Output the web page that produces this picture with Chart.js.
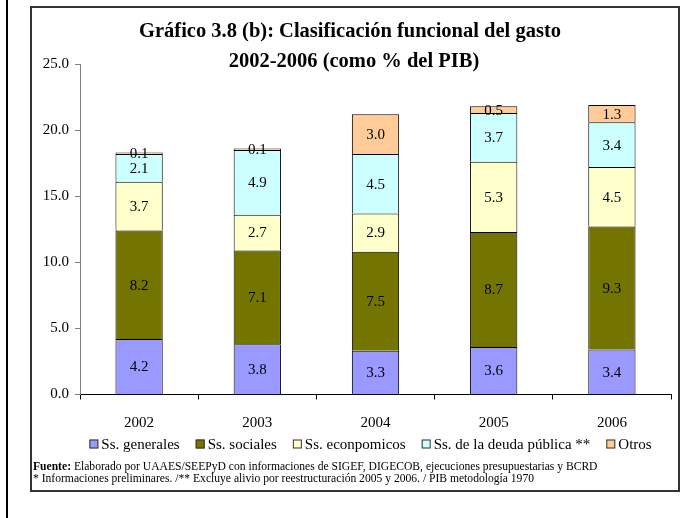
<!DOCTYPE html>
<html>
<head>
<meta charset="utf-8">
<script src="https://cdn.jsdelivr.net/npm/chart.js@4"></script>
<style>
html,body{margin:0;padding:0;background:#fff;}
#c{display:block;}
</style>
</head>
<body>
<canvas id="c" width="694" height="518"></canvas>
<script>
const categories = ['2002', '2003', '2004', '2005', '2006'];
const seriesNames = ['Ss. generales', 'Ss. sociales', 'Ss. econpomicos', 'Ss. de la deuda pública **', 'Otros'];
const generales = [4.2, 3.8, 3.3, 3.6, 3.4];
const sociales = [8.2, 7.1, 7.5, 8.7, 9.3];
const economicos = [3.7, 2.7, 2.9, 5.3, 4.5];
const deuda = [2.1, 4.9, 4.5, 3.7, 3.4];
const otros = [0.1, 0.1, 3.0, 0.5, 1.3];
const seriesColors = ['#9999FF', '#747400', '#FFFFCC', '#CCFFFF', '#FFCC99'];
const titleLines = ['Gráfico 3.8 (b): Clasificación funcional del gasto', '2002-2006 (como % del PIB)'];
const footerBold = 'Fuente:';
const footerLine1 = ' Elaborado por UAAES/SEEPyD con informaciones de SIGEF, DIGECOB, ejecuciones presupuestarias y BCRD';
const footerLine2 = '* Informaciones preliminares. /** Excluye alivio por reestructuración 2005 y 2006. / PIB metodología 1970';

const SERIF = "'Liberation Serif', 'Times New Roman', serif";
const allSeries = [generales, sociales, economicos, deuda, otros];

const datasets = allSeries.map((vals, i) => ({
  label: seriesNames[i],
  data: vals,
  backgroundColor: seriesColors[i],
  borderColor: '#000000',
  borderWidth: { top: 1, left: 1, right: 1, bottom: 0 },
  borderSkipped: false,
  barPercentage: 0.4,
  categoryPercentage: 1.0
}));

const decorPlugin = {
  id: 'decor',
  beforeDraw(chart) {
    const ctx = chart.ctx;
    ctx.save();
    ctx.fillStyle = '#ffffff';
    ctx.fillRect(0, 0, chart.width, chart.height);
    ctx.restore();
  },
  afterDatasetsDraw(chart) {
    const ctx = chart.ctx;
    ctx.save();
    ctx.font = '15px ' + SERIF;
    ctx.fillStyle = '#000';
    ctx.textAlign = 'center';
    ctx.textBaseline = 'middle';
    chart.data.datasets.forEach((ds, di) => {
      const meta = chart.getDatasetMeta(di);
      meta.data.forEach((el, i) => {
        const p = el.getProps(['x', 'y', 'base'], true);
        ctx.fillText(Number(ds.data[i]).toFixed(1), p.x, (p.y + p.base) / 2 + 1);
      });
    });
    ctx.restore();
  },
  afterDraw(chart) {
    const ctx = chart.ctx;
    ctx.save();
    // outer left line
    ctx.strokeStyle = '#000';
    ctx.lineWidth = 2;
    ctx.beginPath();
    ctx.moveTo(7, 0);
    ctx.lineTo(7, 518);
    ctx.stroke();
    // chart box
    ctx.strokeStyle = '#333';
    ctx.lineWidth = 2;
    ctx.strokeRect(31, 7, 648, 484);

    // title
    ctx.fillStyle = '#000';
    ctx.font = 'bold 20.5px ' + SERIF;
    ctx.textAlign = 'center';
    ctx.textBaseline = 'middle';
    ctx.fillText(titleLines[0], 350, 32);
    ctx.fillText(titleLines[1], 354, 62);

    // legend
    ctx.font = '15px ' + SERIF;
    ctx.textAlign = 'left';
    const box = 9, gapBT = 3, gapItem = 16;
    let total = 0;
    const widths = seriesNames.map(n => ctx.measureText(n).width);
    widths.forEach((w, i) => { total += box + gapBT + w + (i < widths.length - 1 ? gapItem : 0); });
    let x = 370.5 - total / 2;
    const ly = 444;
    seriesNames.forEach((n, i) => {
      ctx.fillStyle = seriesColors[i];
      ctx.fillRect(x, ly - box / 2, box, box);
      ctx.strokeStyle = '#333';
      ctx.lineWidth = 1;
      ctx.strokeRect(x + 0.5, ly - box / 2 + 0.5, box - 1, box - 1);
      ctx.fillStyle = '#000';
      ctx.fillText(n, x + box + gapBT, ly + 1);
      x += box + gapBT + widths[i] + gapItem;
    });

    // footer
    ctx.font = 'bold 11.6px ' + SERIF;
    ctx.fillText(footerBold, 33, 467);
    const bw = ctx.measureText(footerBold).width;
    ctx.font = '11.6px ' + SERIF;
    ctx.fillText(footerLine1, 33 + bw, 467);
    ctx.fillText(footerLine2, 33, 479);
    ctx.restore();
  }
};

new Chart(document.getElementById('c'), {
  type: 'bar',
  data: { labels: categories, datasets: datasets },
  options: {
    responsive: false,
    animation: false,
    devicePixelRatio: 1,
    layout: { padding: { left: 0, right: 23, top: 64, bottom: 0 } },
    plugins: {
      legend: { display: false },
      title: { display: false },
      tooltip: { enabled: false }
    },
    scales: {
      x: {
        stacked: true,
        grid: { display: true, drawOnChartArea: false, drawTicks: true, tickLength: 5, color: '#000', offset: true },
        border: { display: true, color: '#000', width: 1 },
        ticks: { color: '#000', font: { family: SERIF, size: 15 }, padding: 15, maxRotation: 0 },
        afterFit(scale) { scale.height = 123.5; }
      },
      y: {
        stacked: true,
        min: 0,
        max: 25,
        grid: { display: true, drawOnChartArea: false, drawTicks: true, tickLength: 5, color: '#808080' },
        border: { display: true, color: '#808080', width: 1 },
        ticks: {
          stepSize: 5,
          color: '#000',
          font: { family: SERIF, size: 15 },
          padding: 6,
          callback: v => Number(v).toFixed(1)
        },
        afterFit(scale) { scale.width = 80; }
      }
    }
  },
  plugins: [decorPlugin]
});
</script>
</body>
</html>
